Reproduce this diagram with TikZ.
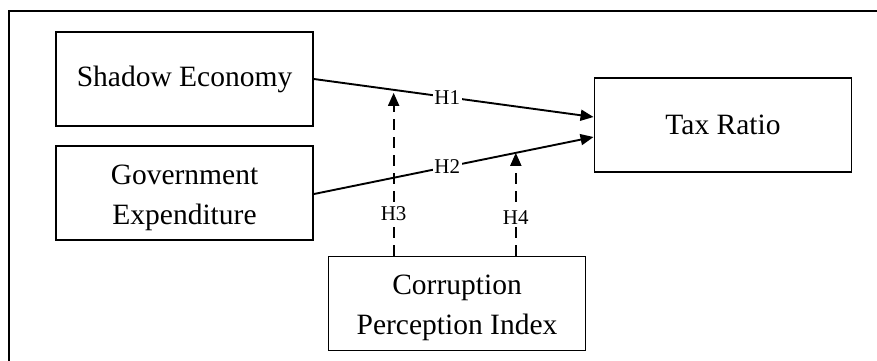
\documentclass[tikz,border=0pt]{standalone}
\usepackage{fontspec}
\setmainfont{Liberation Serif}
\usetikzlibrary{arrows.meta,calc}
\newcommand{\tallstrut}{\rule{0pt}{29pt}}
\begin{document}
\begin{tikzpicture}[x=1pt,y=-1pt,
  box/.style={draw,line width=1.9pt,minimum width=257pt,minimum height=94pt,
    align=center,inner sep=0pt,font=\fontsize{29.5}{40}\selectfont},
  lbl/.style={fill=white,inner sep=1.5pt,font=\fontsize{21}{24}\selectfont},
  arr/.style={line width=1.9pt,-{Triangle[length=13pt,width=11pt]}},
  darr/.style={line width=1.9pt,dash pattern=on 11pt off 7pt,-{Triangle[length=13pt,width=11pt]}}]
\useasboundingbox (0,0) rectangle (877,360);
\draw[line width=2.6pt] (9,362) -- (9,11) -- (879,11);
\node[box] (se) at (184.5,79) {\raisebox{-2pt}{Shadow Economy}};
\node[box] (ge) at (184.5,193) {\tallstrut Government\\Expenditure};
\node[box] (tax) at (723,125) {Tax Ratio};
\node[box] (cpi) at (457,303.5) {\tallstrut Corruption\\Perception Index};
\draw[arr] (se.east) -- node[lbl,pos=0.477] (l1) {H1} coordinate[pos=0.285] (m1) ([yshift=8pt]tax.west);
\draw[arr] ([yshift=-1pt]ge.east) -- node[lbl,pos=0.477] (l2) {H2} coordinate[pos=0.722] (m2) ([yshift=-12pt]tax.west);
\coordinate (b3) at (cpi.north -| m1);
\coordinate (b4) at (cpi.north -| m2);
\draw[darr,shorten >=3pt] (b3) -- node[lbl,pos=0.25] (l3) {H3} (m1);
\draw[darr] (b4) -- node[lbl,pos=0.37] (l4) {H4} (m2);
\end{tikzpicture}
\end{document}
